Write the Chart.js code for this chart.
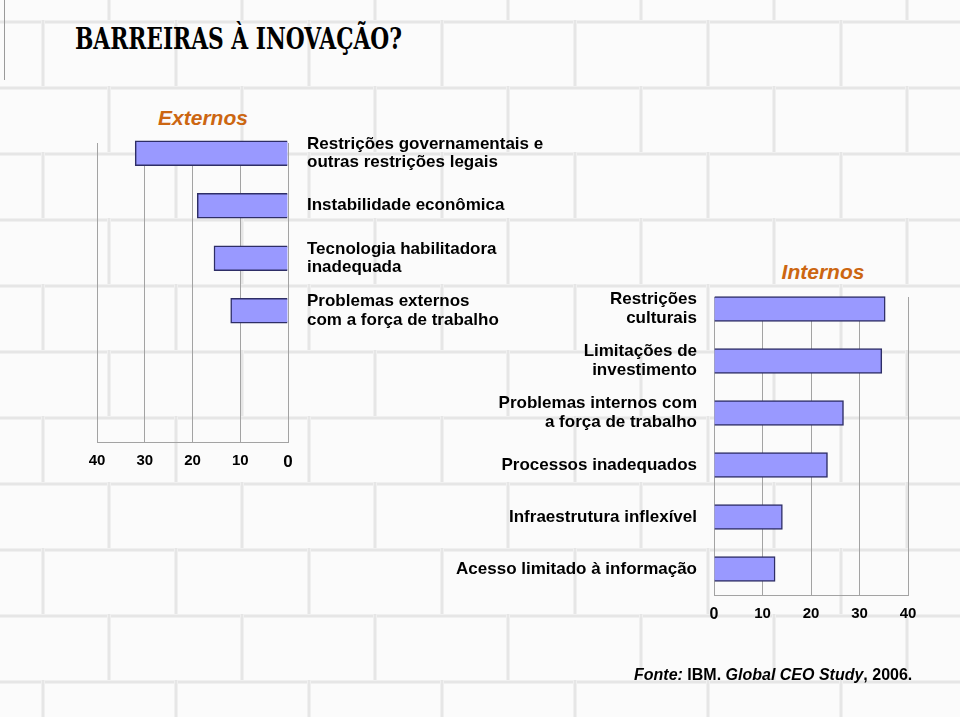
<!DOCTYPE html>
<html lang="pt">
<head>
<meta charset="utf-8">
<title>Barreiras à inovação</title>
<script src="https://cdn.jsdelivr.net/npm/chart.js@4.4.1/dist/chart.umd.min.js"></script>
<style>
  html, body { margin: 0; padding: 0; }
  body {
    width: 960px;
    height: 717px;
    position: relative;
    overflow: hidden;
    font-family: "Liberation Sans", Arial, sans-serif;
    background-color: #fbfbfb;
    background-image: url("data:image/svg+xml;utf8,<svg xmlns='http://www.w3.org/2000/svg' width='133' height='132'><rect width='133' height='132' fill='%23fbfbfb'/><rect y='0' width='133' height='4' fill='%23f0f0f0'/><rect y='1' width='133' height='2' fill='%23e6e6e6'/><rect y='66' width='133' height='4' fill='%23f0f0f0'/><rect y='67' width='133' height='2' fill='%23e6e6e6'/><rect x='0' y='0' width='4' height='66' fill='%23f0f0f0'/><rect x='1' y='0' width='2' height='66' fill='%23e6e6e6'/><rect x='66' y='66' width='4' height='66' fill='%23f0f0f0'/><rect x='67' y='66' width='2' height='66' fill='%23e6e6e6'/></svg>");
    background-position: 41px 20px;
  }
  canvas { position: absolute; left: 0; top: 0; }
  .edge { position: absolute; left: 4px; top: 0; width: 1px; height: 80px; background: #9a9a9a; }
  #title {
    position: absolute; left: 75px; top: 24px;
    font-family: "DejaVu Serif Condensed", "DejaVu Serif", serif;
    font-weight: bold; font-size: 30px; line-height: 30px;
    color: #000; white-space: nowrap;
    transform-origin: left top;
  }
  .group {
    position: absolute; width: 200px; text-align: center;
    font-weight: bold; font-style: italic; font-size: 21px; line-height: 24px;
    color: #cc6611;
  }
  #source {
    position: absolute; left: 634px; top: 665px;
    font-weight: bold; font-size: 16px; line-height: 19px;
    color: #000; white-space: nowrap;
  }
</style>
</head>
<body>
<div class="edge"></div>
<div id="title">BARREIRAS À INOVAÇÃO?</div>
<div class="group" style="left:103px; top:106px;">Externos</div>
<div class="group" style="left:723px; top:260px;">Internos</div>
<canvas id="leftChart" width="960" height="717"></canvas>
<canvas id="rightChart" width="960" height="717"></canvas>
<div id="source"><i>Fonte:</i> IBM. <i>Global CEO Study</i>, 2006.</div>

<script>
// values (% of CEOs)
const externosLabels = [
  ['Restrições governamentais e', 'outras restrições legais'],
  'Instabilidade econômica',
  ['Tecnologia habilitadora', 'inadequada'],
  ['Problemas externos', 'com a força de trabalho']
];
const externosValues = [32, 19, 15.5, 12];

const internosLabels = [
  ['Restrições', 'culturais'],
  ['Limitações de', 'investimento'],
  ['Problemas internos com', 'a força de trabalho'],
  'Processos inadequados',
  'Infraestrutura inflexível',
  'Acesso limitado à informação'
];
const internosValues = [35.3, 34.6, 26.7, 23.4, 14.1, 12.6];

const axisMin = 0;
const axisMax = 40;
const axisStep = 10;

/* ─────────────────────────────────────────────
   shared styling
───────────────────────────────────────────── */

const BAR_FILL = '#9999ff';
const BAR_EDGE = '#2e2e66';
const GRID = '#a3a3a3';

function tickFont(zeroSize) {
  return ctx => ({
    family: '"Liberation Sans", Arial, sans-serif',
    weight: 'bold',
    size: ctx.tick && ctx.tick.value === 0 ? zeroSize : 15
  });
}

const labelFont = {
  family: '"Liberation Sans", Arial, sans-serif',
  weight: 'bold',
  size: 17,
  lineHeight: 1.1
};

function barDataset(values) {
  return {
    data: values,
    backgroundColor: BAR_FILL,
    borderColor: BAR_EDGE,
    borderWidth: 1.5,
    barThickness: 25
  };
}

function valueAxis(reverse, zeroSize) {
  return {
    reverse: reverse,
    min: axisMin,
    max: axisMax,
    ticks: { stepSize: axisStep, color: '#000', padding: 10, font: tickFont(zeroSize) },
    grid: { color: GRID, lineWidth: 1, drawTicks: false },
    border: { display: true, color: GRID, width: 1 },
    afterFit: s => { s.height = 40; }
  };
}

// the original's grid starts a little below the first bar slot:
// wipe the grid lines above that before the bars are painted
function trimGrid(gridTop) {
  return {
    id: 'trimGrid',
    beforeDatasetsDraw(chart) {
      const a = chart.chartArea;
      chart.ctx.clearRect(a.left - 2, a.top - 2, a.right - a.left + 4, gridTop - a.top + 2);
    }
  };
}

/* ─────────────────────────────────────────────
   Externos (bars grow to the left)
───────────────────────────────────────────── */

new Chart(document.getElementById('leftChart'), {
  type: 'bar',
  data: {
    labels: externosLabels.concat(['', '']),
    datasets: [barDataset(externosValues)]
  },
  options: {
    indexAxis: 'y',
    responsive: false,
    animation: false,
    layout: { padding: { left: 97, top: 127, right: 0, bottom: 235 } },
    plugins: { legend: { display: false }, tooltip: { enabled: false } },
    scales: {
      x: valueAxis(true, 17),
      y: {
        position: 'right',
        grid: { display: false, drawTicks: false },
        border: { display: false },
        ticks: { color: '#000', padding: 19, font: labelFont },
        afterFit: s => { s.width = 960 - 288; }
      }
    }
  },
  plugins: [trimGrid(143)]
});

/* ─────────────────────────────────────────────
   Internos (bars grow to the right)
───────────────────────────────────────────── */

new Chart(document.getElementById('rightChart'), {
  type: 'bar',
  data: {
    labels: internosLabels,
    datasets: [barDataset(internosValues)]
  },
  options: {
    indexAxis: 'y',
    responsive: false,
    animation: false,
    layout: { padding: { left: 0, top: 283, right: 52, bottom: 82 } },
    plugins: { legend: { display: false }, tooltip: { enabled: false } },
    scales: {
      x: valueAxis(false, 16),
      y: {
        position: 'left',
        grid: { display: false, drawTicks: false },
        border: { display: false },
        ticks: { color: '#000', padding: 17, font: labelFont },
        afterFit: s => { s.width = 714; }
      }
    }
  },
  plugins: [trimGrid(297)]
});

// squeeze the title to the condensed width of the original lettering
const title = document.getElementById('title');
title.style.transform = 'scaleX(' + (327 / title.offsetWidth) + ')';
</script>
</body>
</html>
